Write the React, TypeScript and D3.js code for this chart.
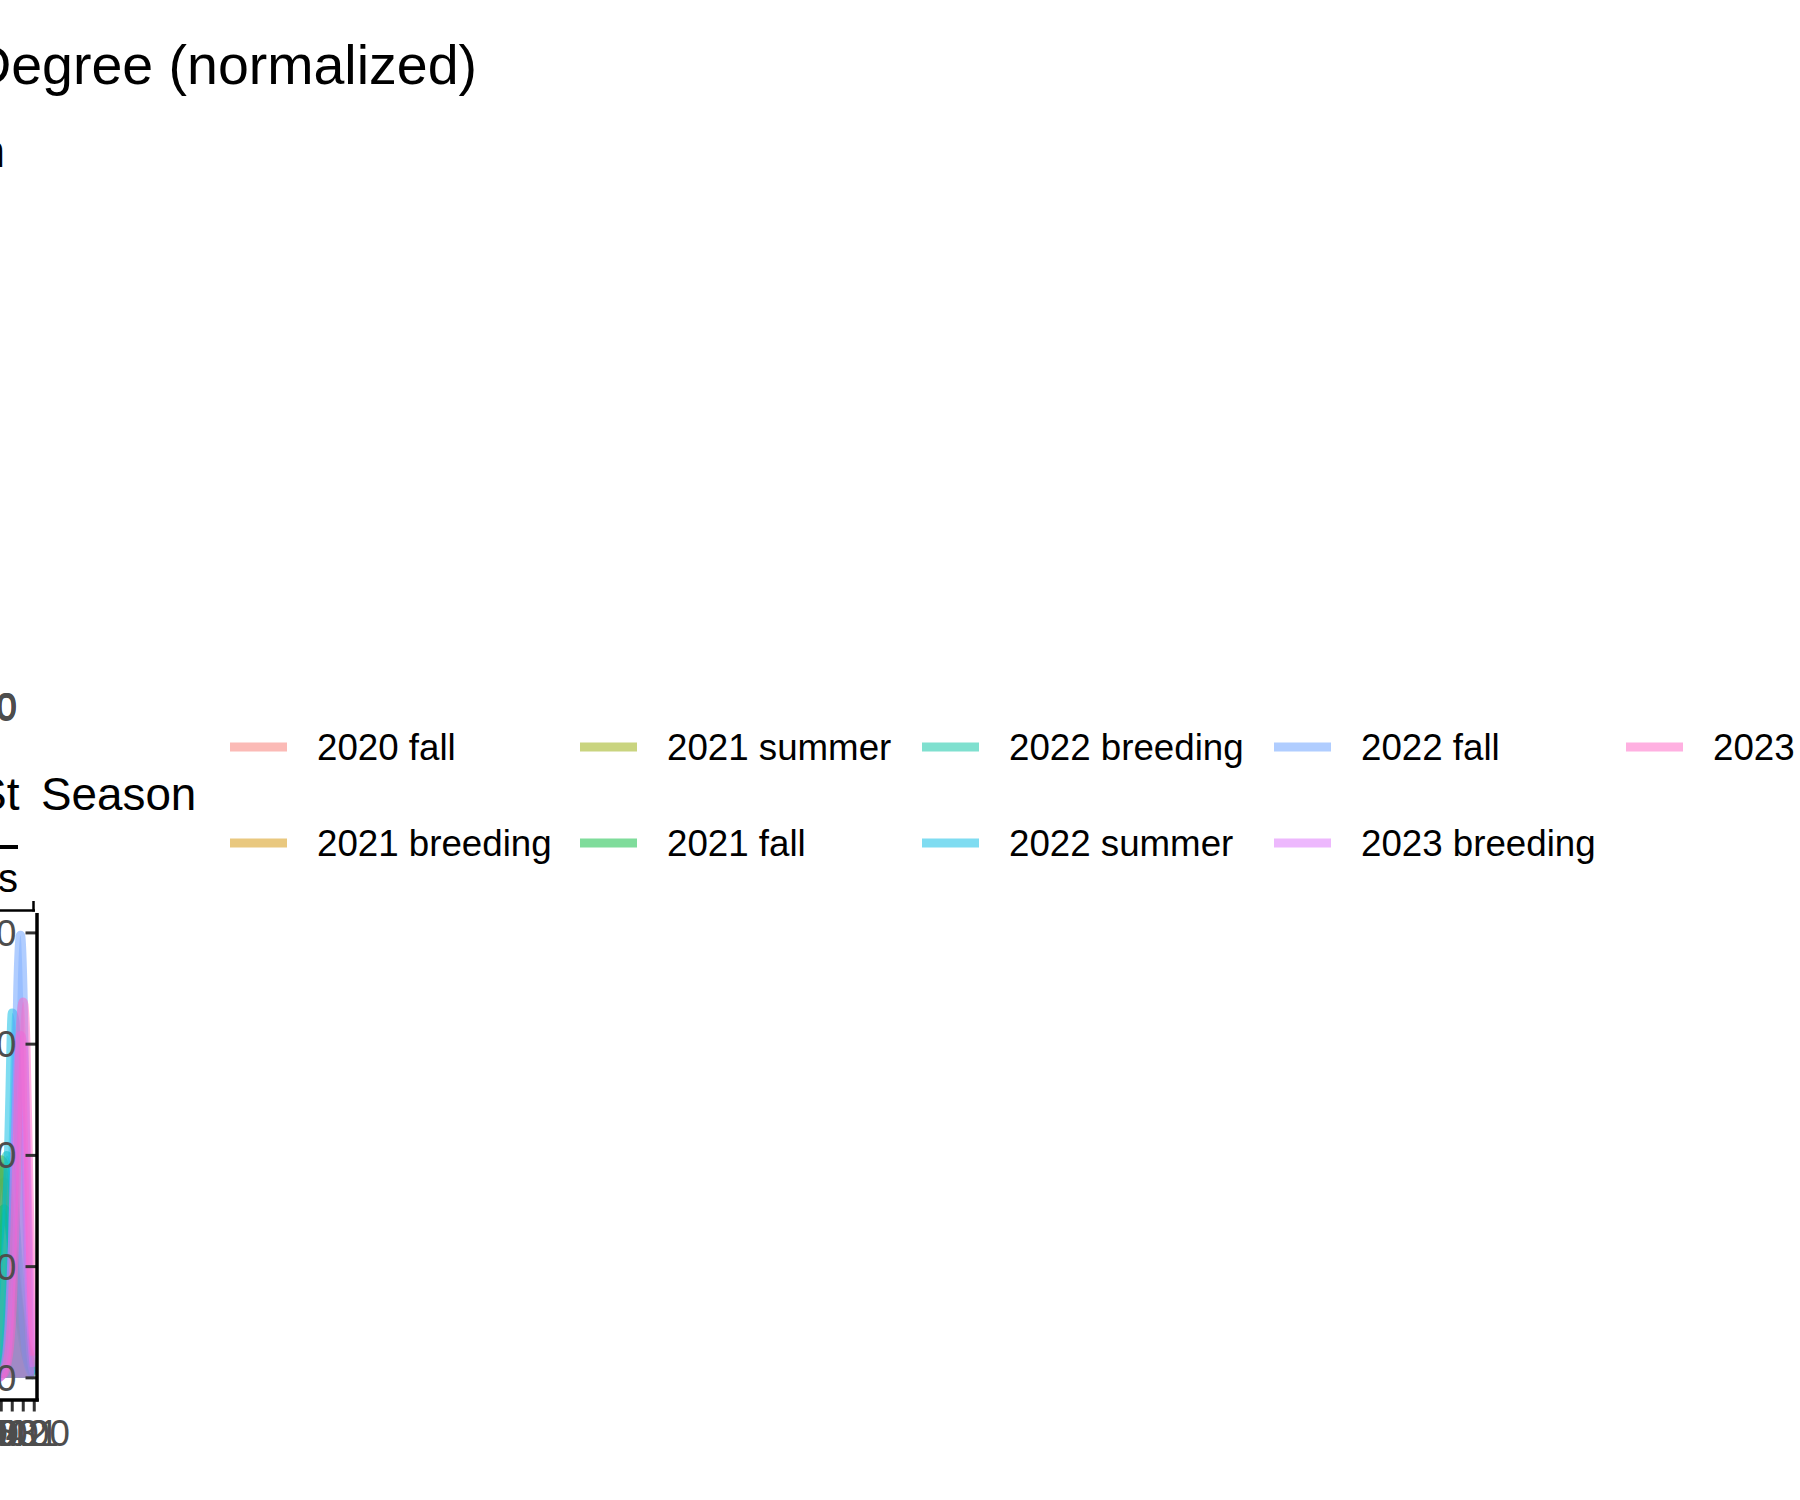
import * as d3 from "d3"

const FONT = "'Liberation Sans', Arial, Helvetica, sans-serif"

// seasons in legend order (column-wise, 2 rows)
const seasons = [
  "2020 fall",
  "2021 breeding",
  "2021 summer",
  "2021 fall",
  "2022 breeding",
  "2022 summer",
  "2022 fall",
  "2023 breeding",
  "2023 summer",
]
const seasonColors = ["#F8766D", "#D39200", "#93AA00", "#00BA38", "#00C19F", "#00B9E3", "#619CFF", "#DB72FB", "#FF61C3"]

// normalized degree grid the density curves are read on
const degreeGrid = [
  0, 0.0025, 0.005, 0.0075, 0.01, 0.0125, 0.015, 0.0175, 0.02, 0.0225, 0.025, 0.0275, 0.03, 0.0325, 0.035, 0.0375,
  0.04, 0.045, 0.05,
]
const dens2020Fall = [2, 5, 9, 14, 20, 28, 38, 50, 62, 74, 83, 88, 86, 78, 64, 48, 32, 12, 3]
const dens2021Breeding = [3, 8, 12, 16, 20, 26, 34, 44, 56, 68, 80, 90, 95, 94, 86, 70, 50, 22, 6]
const dens2021Summer = [2, 6, 10, 14, 19, 26, 36, 48, 62, 76, 88, 96, 98, 92, 78, 58, 38, 14, 4]
const dens2021Fall = [1, 3, 6, 10, 16, 24, 34, 46, 58, 68, 74, 76, 72, 62, 48, 34, 22, 8, 2]
const dens2022Breeding = [2, 4, 8, 14, 24, 38, 55, 72, 88, 98, 100, 92, 76, 56, 36, 20, 10, 3, 1]
const dens2022Summer = [1, 2, 5, 12, 30, 65, 118, 160, 164, 120, 70, 35, 15, 6, 2, 1, 0, 0, 0]
const dens2022Fall = [2, 8, 30, 95, 170, 199, 175, 110, 55, 22, 8, 3, 1, 0.5, 0, 0, 0, 0, 0]
const dens2023Breeding = [5, 20, 55, 110, 148, 154, 138, 100, 58, 28, 11, 4, 1, 0, 0, 0, 0, 0, 0]
const dens2023Summer = [10, 38, 90, 150, 169, 158, 115, 68, 32, 14, 6, 2, 1, 0, 0, 0, 0, 0, 0]
const densities = [
  dens2020Fall,
  dens2021Breeding,
  dens2021Summer,
  dens2021Fall,
  dens2022Breeding,
  dens2022Summer,
  dens2022Fall,
  dens2023Breeding,
  dens2023Summer,
]

const xTicks = [0, 0.01, 0.02, 0.03, 0.04, 0.05]
const yTicks = [0, 50, 100, 150, 200]
// labels of the collapsed upper panel, all piled on one spot
const upperPanelLabels = ["0", "10", "20", "30", "40"]

export default function App() {
  const width = 1800
  const height = 1500

  // the panel has collapsed to a negative width, so it runs leftwards from its origin
  const panelLeft = 37
  const panelWidth = -60.5
  const panelTop = 913
  const panelBottom = 1400

  const xExt = d3.extent(degreeGrid) as [number, number]
  const xPad = (xExt[1] - xExt[0]) * 0.05
  const x = d3
    .scaleLinear()
    .domain([xExt[0] - xPad, xExt[1] + xPad])
    .range([panelLeft, panelLeft + panelWidth])

  const yMax = d3.max(densities.flat()) || 0
  const y = d3
    .scaleLinear()
    .domain([-yMax * 0.05, yMax * 1.05])
    .range([panelBottom, panelTop])

  const area = d3
    .area<number>()
    .x((_, i) => x(degreeGrid[i]))
    .y0(y(0))
    .y1((d) => y(d))
    .curve(d3.curveMonotoneX)
  const line = d3
    .line<number>()
    .x((_, i) => x(degreeGrid[i]))
    .y((d) => y(d))
    .curve(d3.curveMonotoneX)

  // legend layout
  const legendColX = [230, 580, 922, 1274, 1626]
  const legendRowY = [747, 843]
  const keyLen = 57

  const tickLen = 11.5
  const axisGray = "#4D4D4D"

  return (
    <svg
      width={width}
      height={height}
      style={{ position: "absolute", left: 0, top: 0, background: "#fff" }}
      fontFamily={FONT}
    >
      <rect width={width} height={height} fill="#fff" />

      {/* title + subtitle (pushed off the left edge) */}
      <text x={477} y={84} fontSize={55.5} textAnchor="end" fill="#000">
        Degree (normalized)
      </text>
      <text x={5} y={167} fontSize={46} textAnchor="end" fill="#000">
        Kernel density by season
      </text>

      {/* upper panel axis labels collapsed on top of each other */}
      {upperPanelLabels.map((l, i) => (
        <text key={l} x={16.3 + (i % 2) * 0.8} y={718.5 + i * 0.5} fontSize={36.7} textAnchor="end" fill={axisGray}>
          {l}
        </text>
      ))}

      {/* leftover fragments */}
      <text x={19.5} y={810} fontSize={46} textAnchor="end" fill="#000">
        St
      </text>
      <rect x={-40} y={845} width={58} height={4} fill="#000" />
      <text x={18} y={892} fontSize={40} textAnchor="end" fill="#000">
        s
      </text>
      <line x1={-40} x2={35} y1={910.5} y2={910.5} stroke="#000" strokeWidth={2.5} />
      <line x1={33.5} x2={33.5} y1={901} y2={911.5} stroke="#000" strokeWidth={2.5} />

      {/* legend */}
      <text x={41} y={810} fontSize={45.8} fill="#000">
        Season
      </text>
      {seasons.map((s, i) => {
        const cx = legendColX[Math.floor(i / 2)]
        const cy = legendRowY[i % 2]
        return (
          <g key={s}>
            <line
              x1={cx}
              x2={cx + keyLen}
              y1={cy}
              y2={cy}
              stroke={seasonColors[i]}
              strokeOpacity={0.5}
              strokeWidth={9}
            />
            <text x={cx + keyLen + 30} y={cy + 13} fontSize={36.7} fill="#000">
              {s}
            </text>
          </g>
        )
      })}

      {/* panel */}
      <defs>
        <clipPath id="panel-clip">
          <rect
            x={panelLeft + panelWidth}
            y={panelTop}
            width={-panelWidth}
            height={panelBottom - panelTop}
          />
        </clipPath>
      </defs>
      <g clipPath="url(#panel-clip)">
        {densities.map((d, i) => (
          <g key={seasons[i]}>
            <path d={area(d) || ""} fill={seasonColors[i]} fillOpacity={0.3} />
            <path
              d={line(d) || ""}
              fill="none"
              stroke={seasonColors[i]}
              strokeOpacity={0.5}
              strokeWidth={9}
              strokeLinejoin="round"
            />
          </g>
        ))}
      </g>

      {/* y axis */}
      {yTicks.map((t) => (
        <g key={t}>
          <line x1={panelLeft - tickLen} x2={panelLeft} y1={y(t)} y2={y(t)} stroke="#333" strokeWidth={3} />
          <text x={panelLeft - tickLen - 9.2} y={y(t) + 13} fontSize={36.7} textAnchor="end" fill={axisGray}>
            {t}
          </text>
        </g>
      ))}
      <line x1={panelLeft} x2={panelLeft} y1={panelTop} y2={panelBottom + 1.5} stroke="#000" strokeWidth={3.5} />

      {/* x axis */}
      {xTicks.map((t) => (
        <g key={t}>
          <line
            x1={x(t)}
            x2={x(t)}
            y1={panelBottom}
            y2={panelBottom + tickLen}
            stroke="#333"
            strokeWidth={3}
          />
          <text x={x(t)} y={panelBottom + tickLen + 34} fontSize={36.7} textAnchor="middle" fill={axisGray}>
            {d3.format(".2f")(t)}
          </text>
        </g>
      ))}
      <line
        x1={panelLeft + panelWidth}
        x2={panelLeft + 1.75}
        y1={panelBottom}
        y2={panelBottom}
        stroke="#000"
        strokeWidth={3.5}
      />
    </svg>
  )
}
